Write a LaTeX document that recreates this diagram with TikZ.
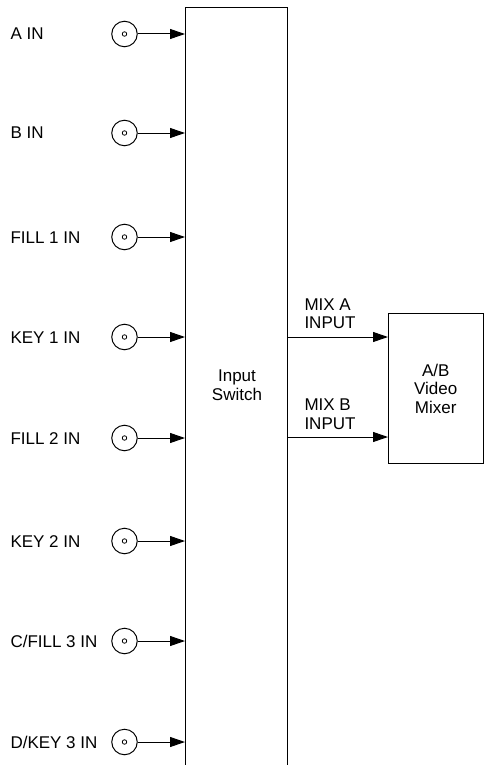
\documentclass[tikz,border=0pt]{standalone}
\usepackage{fontspec}
\setmainfont{Liberation Sans}
\usetikzlibrary{arrows.meta}
\begin{document}
\begin{tikzpicture}[x=1pt,y=-1pt,line width=1pt,
  txt/.style={font=\fontsize{17}{18.5}\selectfont, inner sep=0pt},
  jack/.style={draw, circle, minimum size=25.5pt, inner sep=0pt},
  dot/.style={draw, circle, minimum size=4.5pt, inner sep=0pt, line width=0.8pt},
  arr/.style={-{Triangle[length=15pt,width=10pt]}}]
\useasboundingbox (0,0) rectangle (483,765);
\node[draw, minimum width=102pt, minimum height=762pt, anchor=north west, inner sep=0pt] (sw) at (185,7) {};
\node[txt, align=center] (swt) at (237,385) {Input\\Switch};
\foreach \i/\y/\t in {1/34/{A IN}, 2/133/{B IN}, 3/237/{FILL 1 IN}, 4/337/{KEY 1 IN}, 5/438/{FILL 2 IN}, 6/541/{KEY 2 IN}, 7/641/{C/FILL 3 IN}, 8/742/{D/KEY 3 IN}}{
  \node[txt, anchor=base west] (l\i) at (10,\y+6) {\t};
  \node[jack] (c\i) at (124.5,\y) {};
  \node[dot] (d\i) at (c\i) {};
  \draw[arr] (c\i) -- (c\i -| sw.west);
}
\node[draw, minimum width=94.5pt, minimum height=150pt, anchor=north west, inner sep=0pt] (mx) at (388,313) {};
\node[txt, align=center] (mxt) at (mx.center) {A/B\\Video\\Mixer};
\coordinate (oa) at (287,337);
\coordinate (ob) at (287,437);
\draw[arr] (oa) -- (oa -| mx.west);
\draw[arr] (ob) -- (ob -| mx.west);
\node[txt, align=left, anchor=west] (la) at (304,313.5) {MIX A\\INPUT};
\node[txt, align=left, anchor=west] (lb) at (304,414) {MIX B\\INPUT};
\end{tikzpicture}
\end{document}
